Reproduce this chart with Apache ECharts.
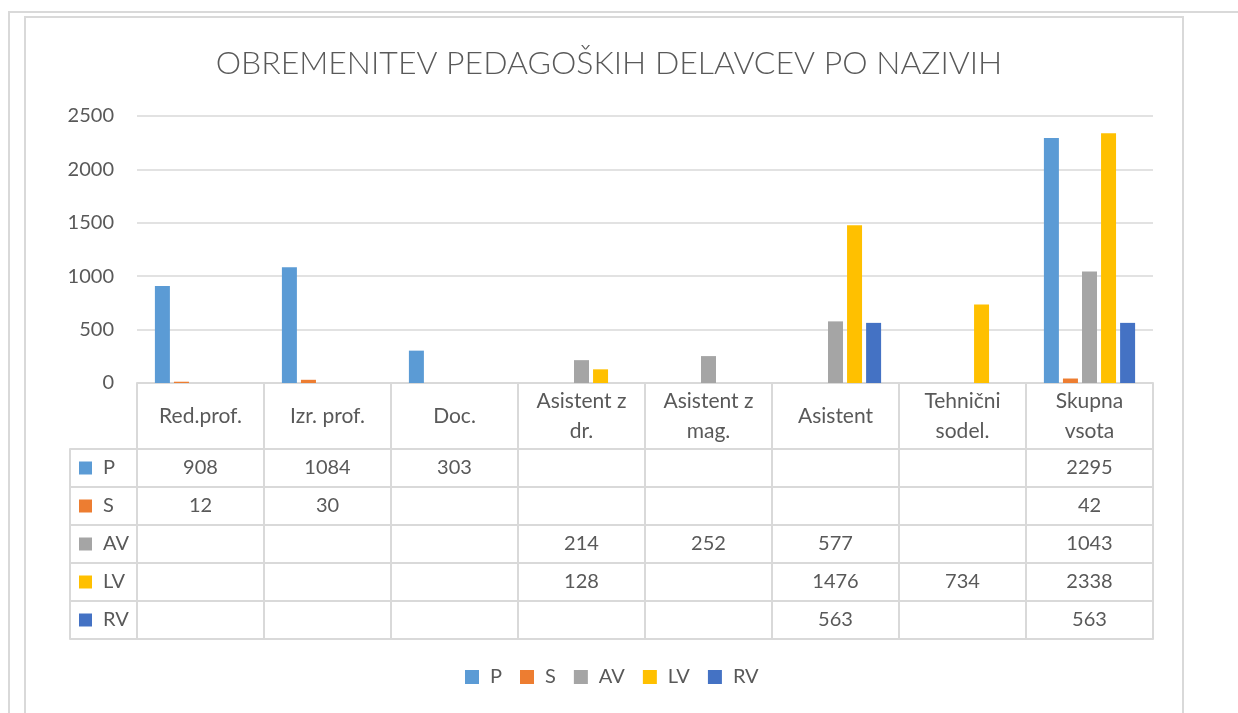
<!DOCTYPE html>
<html>
<head>
<meta charset="utf-8">
<script src="https://cdn.jsdelivr.net/npm/echarts@6/dist/echarts.min.js"></script>
<style>html,body{margin:0;padding:0;background:#fff;}#c{width:1238px;height:713px;}</style>
</head>
<body>
<div id="c"></div>
<script>
const titleText = 'OBREMENITEV PEDAGOŠKIH DELAVCEV PO NAZIVIH';
const categories = ['Red.prof.', 'Izr. prof.', 'Doc.', 'Asistent z\ndr.', 'Asistent z\nmag.', 'Asistent', 'Tehnični\nsodel.', 'Skupna\nvsota'];
const seriesNames = ['P', 'S', 'AV', 'LV', 'RV'];
const valuesP  = [908, 1084, 303, null, null, null, null, 2295];
const valuesS  = [12, 30, null, null, null, null, null, 42];
const valuesAV = [null, null, null, 214, 252, 577, null, 1043];
const valuesLV = [null, null, null, 128, null, 1476, 734, 2338];
const valuesRV = [null, null, null, null, null, 563, null, 563];
const yMin = 0, yMax = 2500, yStep = 500;
const colors = ['#5B9BD5', '#ED7D31', '#A5A5A5', '#FFC000', '#4472C4'];

const allValues = [valuesP, valuesS, valuesAV, valuesLV, valuesRV];
const FONT = 'Lato, "Open Sans", sans-serif';
const TXT = '#595959';
const LINE = '#d9d9d9';

const tableData = [];
allValues.forEach((arr, s) => arr.forEach((v, i) => { if (v !== null) tableData.push([i, s, v]); }));

const rich = { t: { fontSize: 20, fontFamily: FONT, color: TXT, padding: [0, 0, 0, 11] } };
colors.forEach((c, i) => { rich['s' + i] = { width: 13, height: 13, backgroundColor: c }; });

const chart = echarts.init(document.getElementById('c'), null, { renderer: 'canvas' });
chart.setOption({
  animation: false,
  backgroundColor: '#fff',
  textStyle: { fontFamily: FONT },
  title: {
    text: titleText, left: 604, top: 43, textAlign: 'center',
    textStyle: { fontFamily: FONT, fontWeight: 300, fontSize: 32, color: TXT }
  },
  graphic: [
    { type: 'polyline', shape: { points: [[9, 720], [9, 12], [1240, 12]] }, style: { stroke: LINE, lineWidth: 2, fill: null } },
    { type: 'polyline', shape: { points: [[25, 720], [25, 17], [1183, 17], [1183, 720]] }, style: { stroke: LINE, lineWidth: 2, fill: null } }
  ],
  legend: {
    data: seriesNames, left: 465, top: 667, padding: 0, itemWidth: 14, itemHeight: 14, itemGap: 18, icon: 'rect',
    textStyle: { fontFamily: FONT, fontSize: 20, color: TXT, padding: [0, 0, 0, 6] }
  },
  grid: [
    { left: 137, right: 85, top: 116, bottom: 330, containLabel: false },
    { left: 137, right: 85, top: 449, bottom: 74, containLabel: false }
  ],
  xAxis: [
    {
      type: 'category', gridIndex: 0, data: categories,
      axisLine: { lineStyle: { color: LINE, width: 2 } },
      axisTick: { show: true, length: 66, interval: 0, lineStyle: { color: LINE, width: 2 } },
      axisLabel: { interval: 0, margin: 33, verticalAlign: 'middle', fontSize: 21, lineHeight: 30, color: TXT, fontFamily: FONT }
    },
    {
      type: 'category', gridIndex: 1, data: categories,
      axisLine: { show: true, lineStyle: { color: LINE, width: 2 } },
      axisTick: { show: false },
      axisLabel: { show: false },
      splitLine: { show: true, interval: 0, lineStyle: { color: LINE, width: 2 } }
    }
  ],
  yAxis: [
    {
      type: 'value', gridIndex: 0, min: yMin, max: yMax, interval: yStep,
      axisLine: { show: false }, axisTick: { show: false },
      axisLabel: { margin: 23, fontSize: 20, color: TXT, fontFamily: FONT, formatter: v => String(v) },
      splitLine: { lineStyle: { color: LINE, width: 1.5 } }
    },
    {
      type: 'category', gridIndex: 1, data: seriesNames, inverse: true,
      axisLine: { show: true, lineStyle: { color: LINE, width: 2 } },
      axisTick: { show: true, length: 67, interval: 0, lineStyle: { color: LINE, width: 2 } },
      axisLabel: {
        interval: 0, margin: 58, align: 'left',
        formatter: (v, i) => '{s' + i + '|}{t|' + v + '}', rich: rich
      },
      splitLine: { show: true, interval: 0, lineStyle: { color: LINE, width: 2 } }
    },
    {
      type: 'category', gridIndex: 1, data: seriesNames, inverse: true, position: 'left', offset: 67,
      axisLine: { show: true, lineStyle: { color: LINE, width: 2 } },
      axisTick: { show: false }, axisLabel: { show: false }, splitLine: { show: false }
    }
  ],
  series: seriesNames.map((n, i) => ({
    name: n, type: 'bar', xAxisIndex: 0, yAxisIndex: 0, data: allValues[i],
    barWidth: 15, barGap: '27%', itemStyle: { color: colors[i] }
  })).concat([{
    name: 'table', type: 'custom', xAxisIndex: 1, yAxisIndex: 1, data: tableData,
    renderItem: function (params, api) {
      const p = api.coord([api.value(0), api.value(1)]);
      return {
        type: 'text', x: p[0], y: p[1],
        style: { text: String(api.value(2)), fill: TXT, fontSize: 20, fontFamily: FONT, align: 'center', verticalAlign: 'middle' }
      };
    }
  }])
});
</script>
</body>
</html>
